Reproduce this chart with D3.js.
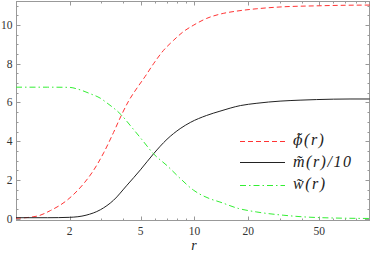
<!DOCTYPE html>
<html>
<head>
<meta charset="utf-8">
<script src="https://cdn.jsdelivr.net/npm/d3@7"></script>
<style>
  body { margin: 0; background: #fff; }
  svg { display: block; }
</style>
</head>
<body>
<div id="chart"></div>
<script>
// values (r on a log axis)
var phiR   = [1.0, 1.31, 1.56, 1.93, 2.39, 2.7, 3.1, 3.52, 3.9, 4.28, 4.77, 5.3, 5.9, 6.71, 7.64, 8.65, 9.84, 11.7, 14.5, 17.3, 22.4, 31.4, 48.4, 70, 96];
var phiVal = [0.02, 0.13, 0.42, 0.95, 1.8, 2.45, 3.4, 4.45, 5.35, 6.08, 6.75, 7.35, 8.0, 8.69, 9.21, 9.65, 9.98, 10.34, 10.6, 10.72, 10.84, 10.94, 10.99, 11.02, 11.03];

var mR   = [1.0, 1.5, 2.0, 2.47, 2.97, 3.52, 4.19, 4.98, 5.9, 7.02, 8.32, 9.49, 11.7, 13.9, 18.1, 22.4, 30.2, 39.1, 48.4, 74.5, 96];
var mVal = [0.05, 0.05, 0.07, 0.18, 0.46, 0.95, 1.73, 2.52, 3.35, 4.1, 4.65, 4.97, 5.33, 5.55, 5.84, 5.96, 6.07, 6.12, 6.15, 6.18, 6.18];

var wR   = [1.0, 1.5, 2.0, 2.2, 2.61, 2.97, 3.24, 3.9, 4.38, 5.08, 5.9, 7.02, 8.32, 9.89, 12.2, 13.9, 17.6, 22.2, 31.4, 48.4, 96];
var wVal = [6.79, 6.79, 6.78, 6.7, 6.45, 6.22, 5.97, 5.35, 4.8, 4.08, 3.35, 2.74, 2.08, 1.47, 1.03, 0.86, 0.53, 0.35, 0.18, 0.06, 0.01];

var xMajor = [2, 5, 10, 20, 50];
var xMinor = [3, 4, 6, 7, 8, 9, 30, 40, 60, 70, 80, 90];
var yMajor = [0, 2, 4, 6, 8, 10];

var legendLabels = ["\u03D5\u0303", "m\u0303", "w\u0303"];
var legendTails  = ["(r)", "(r)/10", "(r)"];

var W = 374, H = 258;
var pl = 16, pr = 370, pt = 1, pb = 221;
var serif = "'Liberation Serif', 'Times New Roman', serif";

var svg = d3.select("#chart").append("svg")
    .attr("width", W)
    .attr("height", H)
    .style("font-family", serif);

var x = d3.scaleLog().domain([1, 96.4]).range([pl, pr]);
var y = d3.scaleLinear().domain([-0.12, 11.24]).range([pb, pt]);

var yMinor = d3.range(0, 11.01, 0.5).filter(function(v) { return yMajor.indexOf(v) == -1; });

var frameColor = "#999";

// ticks pointing inward on all four sides
var tk = svg.append("g").attr("stroke", frameColor).attr("stroke-width", 1);
function vTicks(vals, len) {
  vals.forEach(function(v) {
    var px = Math.round(x(v)) + 0.5;
    tk.append("line").attr("x1", px).attr("x2", px).attr("y1", pb).attr("y2", pb - len);
    tk.append("line").attr("x1", px).attr("x2", px).attr("y1", pt).attr("y2", pt + len);
  });
}
function hTicks(vals, len) {
  vals.forEach(function(v) {
    var py = Math.round(y(v)) + 0.5;
    tk.append("line").attr("x1", pl).attr("x2", pl + len).attr("y1", py).attr("y2", py);
    tk.append("line").attr("x1", pr).attr("x2", pr - len).attr("y1", py).attr("y2", py);
  });
}
vTicks(xMajor, 4.5);
vTicks(xMinor, 2.5);
hTicks(yMajor, 4.5);
hTicks(yMinor, 2.5);

svg.append("rect")
    .attr("x", pl + 0.5).attr("y", pt + 0.5)
    .attr("width", pr - pl - 1).attr("height", pb - pt - 1)
    .attr("fill", "none").attr("stroke", frameColor);

// tick labels
svg.append("g").selectAll("text").data(xMajor).enter().append("text")
    .attr("x", function(d) { return x(d); })
    .attr("y", 235)
    .attr("text-anchor", "middle")
    .attr("font-size", "11.5px")
    .attr("fill", "#333")
    .text(function(d) { return d; });

svg.append("g").selectAll("text").data(yMajor).enter().append("text")
    .attr("x", 12.5)
    .attr("y", function(d) { return y(d) + 4; })
    .attr("text-anchor", "end")
    .attr("font-size", "11.5px")
    .attr("fill", "#333")
    .text(function(d) { return d; });

svg.append("text")
    .attr("x", 194).attr("y", 250)
    .attr("text-anchor", "middle")
    .attr("font-size", "14px")
    .attr("font-style", "italic")
    .attr("fill", "#222")
    .text("r");

// curves
var line = d3.line()
    .x(function(d) { return x(d[0]); })
    .y(function(d) { return y(d[1]); })
    .curve(d3.curveMonotoneX);

var series = [
  { r: phiR, v: phiVal, color: "#ff3333", dash: "5,3" },
  { r: mR,   v: mVal,   color: "#222",    dash: null },
  { r: wR,   v: wVal,   color: "#33ee33", dash: "6,3,1.5,3" }
];

var plot = svg.append("g");
series.forEach(function(s) {
  plot.append("path")
      .datum(d3.zip(s.r, s.v))
      .attr("fill", "none")
      .attr("stroke", s.color)
      .attr("stroke-width", 1)
      .attr("stroke-dasharray", s.dash)
      .attr("d", line);
});

// legend
var legendLineY = [141.5, 162.5, 185.5];
var legendBase  = [144.5, 167, 189];
var legend = svg.append("g");
series.forEach(function(s, i) {
  legend.append("line")
      .attr("x1", 240).attr("x2", 285)
      .attr("y1", legendLineY[i]).attr("y2", legendLineY[i])
      .attr("stroke", s.color)
      .attr("stroke-width", 1)
      .attr("stroke-dasharray", s.dash);
  var t = legend.append("text")
      .attr("x", 293).attr("y", legendBase[i])
      .attr("font-size", "16px")
      .attr("font-style", "italic")
      .attr("letter-spacing", "1.5px")
      .attr("fill", "#222");
  // the phi with a combining tilde only composes well in DejaVu Serif
  t.append("tspan")
      .style("font-family", i == 0 ? "'DejaVu Serif', serif" : serif)
      .attr("font-size", i == 0 ? "14px" : null)
      .text(legendLabels[i]);
  t.append("tspan").text(legendTails[i]);
});
</script>
</body>
</html>
